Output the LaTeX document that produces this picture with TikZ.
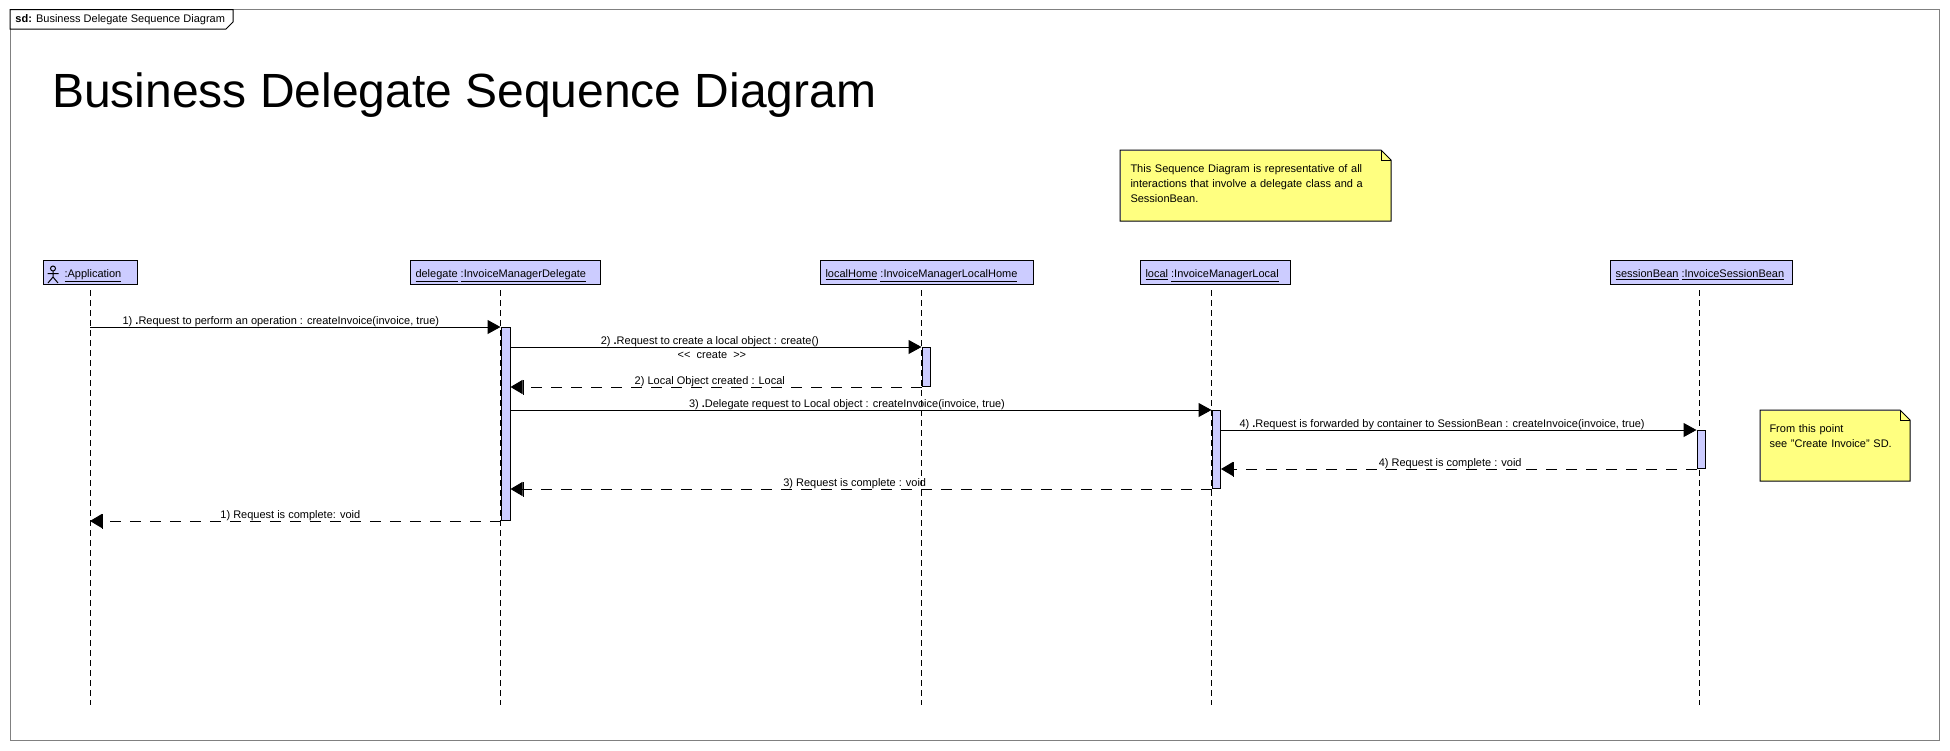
\documentclass[tikz,border=0pt]{standalone}
\usepackage{fontspec}
\setmainfont{Liberation Sans}
\usepackage{xcolor}
\usetikzlibrary{arrows.meta,calc,positioning}
\definecolor{sdblue}{HTML}{CCCCFF}
\definecolor{sdyellow}{HTML}{FFFF80}
\definecolor{sdgray}{HTML}{808080}
\newcommand{\sdfont}{\fontsize{11}{15.2}\selectfont}

\begin{document}
\begin{tikzpicture}[
  x=1pt, y=-1pt,
  line width=1pt,
  every node/.style={font=\sdfont},
  head/.style={draw, fill=sdblue, minimum height=24pt, inner xsep=5pt, inner ysep=0pt, align=left,
    anchor=west, text height=11pt, text depth=1pt},
  bar/.style={draw, fill=sdblue, anchor=north west, minimum width=8.5pt, inner sep=0pt},
  life/.style={draw, dash pattern=on 5.5pt off 4.5pt},
  call/.style={-{Triangle[length=13pt,width=14pt]}},
  reply/.style={-{Bar[width=15pt,sep=0pt]Triangle[length=12pt,width=14pt]}, dash pattern=on 11pt off 9pt},
  lab/.style={inner xsep=0pt, inner ysep=2.5pt, text depth=0pt},
  note/.style={fill=sdyellow, anchor=north west, align=left, inner xsep=10pt, inner ysep=0pt}
]
  \useasboundingbox (0,0) rectangle (1950,750);
  \fill[white] (0,0) rectangle (1950,750);
  \draw[sdgray] (10,9.5) rectangle (1939,740);

  \draw[fill=white] (10,9.5) -- (233,9.5) -- (233,22) -- (226,29) -- (10,29) -- cycle;
  \node[anchor=west, inner sep=0pt] (tabtext) at (15,20) {\textbf{sd:} Business Delegate Sequence Diagram};
  \node[anchor=base west, inner sep=0pt, font=\fontsize{48}{52}\selectfont] (title) at (51.5,107) {Business Delegate Sequence Diagram};

  \node[head, text width=84pt] (app) at (42.5,272.5) {\hspace*{16.5pt}\underline{:Application}};
  \node[head, text width=180pt] (delegate) at (410,272.5) {\underline{delegate}\hspace{3pt}\underline{:InvoiceManagerDelegate}};
  \node[head, text width=203pt] (home) at (820,272.5) {\underline{localHome}\hspace{3pt}\underline{:InvoiceManagerLocalHome}};
  \node[head, text width=140pt] (local) at (1140,272.5) {\underline{local}\hspace{3pt}\underline{:InvoiceManagerLocal}};
  \node[head, text width=172pt] (bean) at (1610,272.5) {\underline{sessionBean}\hspace{3pt}\underline{:InvoiceSessionBean}};

  \draw ([xshift=10.5pt]app.west) ++(0,-4) circle (2.5pt)
    ++(0,2.5) -- ++(0,6) -- ++(-5,6) ++(5,-6) -- ++(5,6) ++(-5,-9.5) ++(-5.5,0) -- ++(11,0);

  \foreach \n/\x in {app/90,delegate/500,home/921,local/1211,bean/1699} {
    \coordinate (\n-top) at (\x,290);
    \coordinate (\n-end) at (\x,705);
    \draw[life] (\n-top) -- (\n-end);
  }

  \node[bar, minimum width=9pt, minimum height=193pt] (delegatebar) at (500.5,327) {};
  \node[bar, minimum height=39pt] (homebar) at (921.5,347) {};
  \node[bar, minimum height=78pt] (localbar) at (1211.5,410) {};
  \node[bar, minimum height=38pt] (beanbar) at (1696.5,430) {};

  \draw[call] (app-top |- delegatebar.north) -- node[lab, above, pos=.465]{1) \textbf{.}Request to perform an operation : createInvoice(invoice, true)} (delegatebar.north west);
  \draw[call] (delegatebar.east |- homebar.north) -- node[lab, above, pos=.485]{2) \textbf{.}Request to create a local object : create()}
    node[lab, below, pos=.49, inner ysep=4pt]{{<}{<}\ \ create\ \ {>}{>}} (homebar.north west);
  \draw[reply] (homebar.south west) -- node[lab, above, pos=.515]{2) Local Object created : Local} (delegatebar.east |- homebar.south);
  \draw[call] (delegatebar.east |- localbar.north) -- node[lab, above, pos=.48]{3) \textbf{.}Delegate request to Local object : createInvoice(invoice, true)} (localbar.north west);
  \draw[call] (localbar.east |- beanbar.north) -- node[lab, above, pos=.465]{4) \textbf{.}Request is forwarded by container to SessionBean : createInvoice(invoice, true)} (beanbar.north west);
  \draw[reply] (beanbar.south west) -- node[lab, above, pos=.518]{4) Request is complete : void} (localbar.east |- beanbar.south);
  \draw[reply] (localbar.south west) -- node[lab, above, pos=.509]{3) Request is complete : void} (delegatebar.east |- localbar.south);
  \draw[reply] (delegatebar.south west) -- node[lab, above, pos=.512]{1) Request is complete: void} (app-top |- delegatebar.south);

  \node[note, text width=250pt, minimum height=70pt] (noteall) at (1120,150)
    {This Sequence Diagram is representative of all\\interactions that involve a delegate class and a\\SessionBean.\\[-11pt]~};
  \node[note, text width=131pt, minimum height=70pt, inner xsep=9pt] (notenext) at (1760,410)
    {From this point\\see "Create Invoice" SD.\\[3pt]~};
  \foreach \n in {noteall,notenext} {
    \fill[white] ($(\n.north east)+(-10,0)$) -- (\n.north east) -- ($(\n.north east)+(0,10)$) -- cycle;
    \draw (\n.north west) -- ($(\n.north east)+(-10,0)$) -- ($(\n.north east)+(0,10)$) -- (\n.south east) -- (\n.south west) -- cycle;
    \draw ($(\n.north east)+(-10,0)$) -- ($(\n.north east)+(-10,10)$) -- ($(\n.north east)+(0,10)$);
  }
\end{tikzpicture}
\end{document}
